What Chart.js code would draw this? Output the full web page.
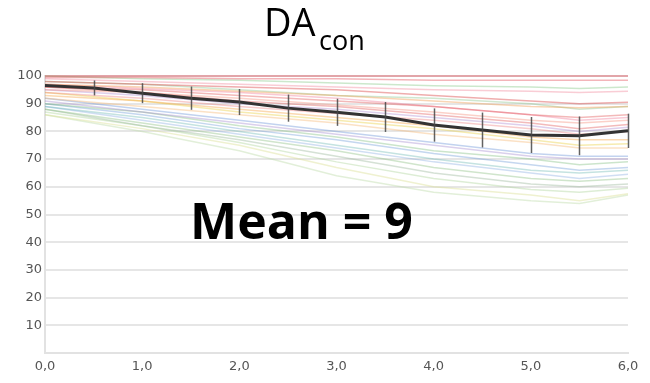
<!DOCTYPE html>
<html>
<head>
<meta charset="utf-8">
<script src="https://cdn.jsdelivr.net/npm/chart.js@4"></script>
<style>
  html, body { margin: 0; padding: 0; background: #fff; }
  #wrap { width: 650px; height: 383px; position: relative; }
</style>
</head>
<body>
<div id="wrap"><canvas id="myChart" width="650" height="383"></canvas></div>
<script>
// time points for the single curves
const timePoints = [0, 1, 2, 3, 4, 5, 5.5, 6]

// single curves
const curves = [
    [100, 100, 100, 100, 100, 100, 100, 100],
    [99.5, 99.5, 99, 99, 98.5, 98.5, 98.5, 98.5],
    [100, 99, 98.5, 97.5, 96.5, 96, 95.5, 96],
    [99, 98, 97, 96, 95, 94.5, 94, 94.5],
    [98, 97, 96, 95, 93, 91, 90, 90.5],
    [97, 96, 94.5, 93, 91, 89, 88.5, 89],
    [98, 97, 95, 93, 92, 90, 88, 89],
    [96, 95, 93, 91, 89, 86, 85, 86],
    [97, 95.5, 94, 92, 89, 86, 84, 85],
    [95, 94, 92, 89.5, 87, 84, 83, 84],
    [96, 94, 91, 89, 86, 83, 81, 82.5],
    [95, 93, 90, 88, 85, 82, 80, 81.5],
    [94, 92, 89, 86.5, 84, 81, 79, 80],
    [93, 91, 88, 85, 82, 78, 77, 77],
    [94, 91, 87, 84, 81, 77, 75, 75.5],
    [92, 89, 86, 83, 79, 76, 74, 74],
    [92, 88, 84, 80, 76, 72, 71, 71],
    [91, 87, 83, 79, 75, 71, 70, 70],
    [90, 87, 82, 78, 73, 70, 68, 69],
    [90, 86, 81, 77, 72, 68, 66, 67],
    [89, 85, 80, 75, 70, 66, 65, 66],
    [89, 84, 79, 74, 69, 65, 63, 64.5],
    [88, 83, 78, 73, 67, 63, 62, 63],
    [88, 82, 77, 71, 65, 61, 60, 61],
    [87, 82, 76, 69, 63, 59, 58, 59.5],
    [86, 81, 75, 67, 60, 57, 55, 57.5],
    [86, 80, 73, 64, 58, 55, 54, 57]
]

// mean curve with standard deviation
const meanTimes = [0, 0.5, 1, 1.5, 2, 2.5, 3, 3.5, 4, 4.5, 5, 5.5, 6]
const meanValues = [96.6, 95.7, 93.8, 92, 90.6, 88.4, 86.9, 85.2, 82.3, 80.5, 78.7, 78.4, 80.2]
const meanSD = [0, 2.7, 3.6, 4.2, 4.7, 4.9, 4.9, 5.4, 6, 6.3, 6.5, 7, 6.2]

const xTicks = [0, 1, 2, 3, 4, 5, 6]
const yTicks = [10, 20, 30, 40, 50, 60, 70, 80, 90, 100]

const curveColors = [
    'rgba(220,40,50,0.45)', 'rgba(225,70,80,0.4)', 'rgba(110,190,110,0.35)', 'rgba(240,130,150,0.4)',
    'rgba(215,50,50,0.4)', 'rgba(240,150,70,0.4)', 'rgba(120,185,120,0.35)', 'rgba(225,80,80,0.4)',
    'rgba(240,120,150,0.4)', 'rgba(245,140,120,0.4)', 'rgba(220,60,60,0.35)', 'rgba(160,120,200,0.35)',
    'rgba(235,110,110,0.35)', 'rgba(245,160,60,0.4)', 'rgba(235,210,80,0.45)', 'rgba(245,180,110,0.4)',
    'rgba(80,130,210,0.35)', 'rgba(150,120,200,0.35)', 'rgba(110,180,110,0.35)', 'rgba(90,140,210,0.35)',
    'rgba(90,175,170,0.35)', 'rgba(120,160,220,0.35)', 'rgba(120,180,110,0.35)', 'rgba(150,180,150,0.4)',
    'rgba(170,210,150,0.4)', 'rgba(220,225,150,0.45)', 'rgba(190,220,170,0.45)'
]

let datasets = []
datasets.push({
    data: meanTimes.map((t, i) => ({ x: t, y: meanValues[i] })),
    borderColor: '#333333',
    borderWidth: 3,
    pointRadius: 0,
    order: 0,
    clip: 6
})
curves.forEach((c, k) => {
    datasets.push({
        data: timePoints.map((t, i) => ({ x: t, y: c[i] })),
        borderColor: curveColors[k],
        borderWidth: 1.5,
        pointRadius: 0,
        order: 1,
        clip: 6
    })
})

const extras = {
    id: 'extras',
    afterDatasetsDraw(chart) {
        const ctx = chart.ctx
        const xs = chart.scales.x, ys = chart.scales.y
        ctx.save()
        ctx.strokeStyle = 'rgba(70,70,70,0.85)'
        ctx.lineWidth = 1.5
        meanTimes.forEach((t, i) => {
            if (!meanSD[i]) return
            const px = Math.round(xs.getPixelForValue(t)) + 0.5
            ctx.beginPath()
            ctx.moveTo(px, ys.getPixelForValue(meanValues[i] + meanSD[i]))
            ctx.lineTo(px, ys.getPixelForValue(meanValues[i] - meanSD[i]))
            ctx.stroke()
        })
        ctx.restore()
    },
    afterDraw(chart) {
        const ctx = chart.ctx
        ctx.save()
        ctx.fillStyle = '#000'
        ctx.textBaseline = 'alphabetic'
        ctx.textAlign = 'left'
        ctx.font = '38px "Open Sans"'
        ctx.fillText('DA', 264, 36)
        ctx.font = '27px "Open Sans"'
        ctx.fillText('con', 319, 50)
        ctx.font = 'bold 50px "Open Sans"'
        ctx.fillText('Mean = 9', 190, 239)
        ctx.restore()
    }
}

const ctx = document.getElementById('myChart')
new Chart(ctx, {
    type: 'line',
    data: { datasets: datasets },
    plugins: [extras],
    options: {
        responsive: false,
        animation: false,
        layout: { padding: { top: 76, right: 22, left: 0, bottom: 0 } },
        plugins: { legend: { display: false }, tooltip: { enabled: false } },
        elements: { line: { tension: 0 } },
        scales: {
            x: {
                type: 'linear',
                min: 0,
                max: 6,
                afterFit: s => { s.height = 30 },
                afterBuildTicks: s => { s.ticks = xTicks.map(v => ({ value: v })) },
                grid: { display: false, drawTicks: false },
                border: { display: true, color: '#e2e2e2', width: 2 },
                ticks: {
                    padding: 6,
                    color: '#555',
                    font: { family: 'DejaVu Sans', size: 13 },
                    maxRotation: 0,
                    callback: v => v.toFixed(1).replace('.', ',')
                }
            },
            y: {
                min: 0,
                max: 100,
                afterFit: s => { s.width = 45 },
                afterBuildTicks: s => { s.ticks = yTicks.map(v => ({ value: v })) },
                grid: { color: '#e6e6e6', lineWidth: 2, drawTicks: false },
                border: { display: true, color: '#e2e2e2', width: 2 },
                ticks: {
                    padding: 3,
                    color: '#555',
                    font: { family: 'DejaVu Sans', size: 13 }
                }
            }
        }
    }
})
</script>
</body>
</html>
